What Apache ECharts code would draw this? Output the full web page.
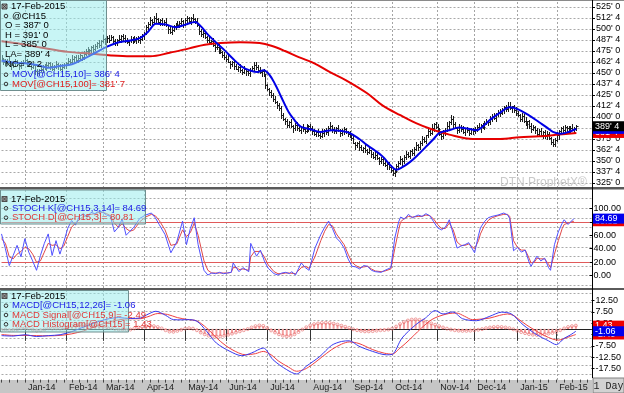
<!DOCTYPE html>
<html><head><meta charset="utf-8">
<script src="https://cdn.jsdelivr.net/npm/echarts@6/dist/echarts.min.js"></script>
<style>html,body{margin:0;padding:0;background:#fff}#c{width:624px;height:393px}</style>
</head><body><div id="c"></div>
<script>
// ---------- data ----------
const monthLabels = ['Jan-14','Feb-14','Mar-14','Apr-14','May-14','Jun-14','Jul-14','Aug-14','Sep-14','Oct-14','Nov-14','Dec-14','Jan-15','Feb-15'];
const monthStartIdx = [12,33,52,73,94,115,136,158,179,200,223,242,264,284];
const slotCount = 303;
const quote = {date:'17-Feb-2015', symbol:'@CH15', open:387, high:391, low:385, last:389.5, change:2.25};

const closes = [466,463,461,464,462,459,461,463,460,458,461,463,465,462,460,457,459,452,450,453,
455,458,456,459,461,458,455,457,460,458,455,457,459,461,464,462,466,468,465,467,
470,468,472,475,473,476,479,477,481,484,482,486,489,487,490,488,491,486,484,487,
489,492,490,488,485,487,489,486,488,490,487,489,492,496,502,506,510,508,513,511,
508,510,506,508,504,500,497,499,503,506,504,507,509,506,510,512,509,513,511,509,
504,498,494,496,491,488,485,486,482,479,480,476,474,471,468,466,463,460,462,458,
455,457,453,451,454,452,450,453,456,459,457,453,451,452,449,436,432,428,425,420,
417,414,410,402,398,395,391,394,390,387,391,388,385,389,386,384,388,390,387,384,
381,383,380,378,382,385,383,387,390,386,384,387,385,382,384,386,383,381,379,376,
371,368,370,366,363,365,362,360,362,358,355,357,353,350,352,348,345,347,343,340,
336,339,344,348,352,350,355,358,356,361,359,364,368,366,371,375,373,379,384,382,
388,392,389,386,381,378,382,385,390,394,398,392,388,385,389,386,383,387,385,382,
386,384,386,389,387,391,389,393,396,394,398,401,399,403,406,404,408,411,409,413,
410,412,408,405,402,398,401,396,392,395,390,386,389,385,381,384,380,383,378,381,
376,372,369,374,379,384,387,385,389,387,385,388,386,387.25,389.5];
const highs = [470,467,466,466,468,463,463,466,465,461,464,465,469,466,464,463,461,460,455,455,
459,459,460,462,463,462,461,459,464,461,460,460,461,462,467,466,470,469,470,470,
472,471,475,477,479,477,481,482,483,485,487,488,493,490,492,493,493,492,489,489,
493,493,494,493,490,488,492,491,492,491,492,492,494,497,505,508,514,511,515,518,
513,511,513,510,512,505,502,502,505,507,509,509,513,510,512,515,514,514,517,513,
513,505,500,499,498,492,491,488,490,483,482,483,478,475,474,470,470,464,464,465,
460,458,460,455,458,455,454,456,458,463,462,459,457,453,454,448,438,433,431,427,
424,418,416,413,404,399,398,396,398,391,393,394,390,390,392,388,392,391,392,390,
386,384,386,382,386,386,387,390,394,391,389,389,391,386,386,389,388,384,384,381,
380,372,372,373,368,366,368,364,366,363,360,360,359,354,355,354,352,348,349,346,
342,340,347,350,356,353,357,361,360,362,364,366,372,369,373,378,377,380,387,386,
392,393,394,392,388,382,385,387,394,395,402,401,394,389,392,391,390,388,389,388,
388,387,389,391,393,392,393,396,398,397,401,403,405,404,408,409,410,412,414,417,
417,413,414,411,407,403,404,403,400,396,397,393,391,390,388,386,388,384,385,384,
383,377,375,376,383,385,389,390,391,390,390,390,392,388.5,391];
const lows = [465,460,459,459,461,455,457,458,459,455,456,459,462,458,458,454,456,449,448,448,
452,451,454,453,458,455,453,453,456,454,453,452,456,456,459,460,461,462,463,462,
466,465,466,470,472,469,474,474,476,478,480,480,485,483,485,485,487,483,482,482,
486,485,488,485,484,482,485,484,485,484,485,484,488,489,494,500,505,504,506,508,
507,505,504,504,503,496,495,494,498,500,502,502,506,502,504,507,508,506,509,507,
503,494,492,491,490,485,483,483,481,475,477,473,473,468,466,464,462,456,458,455,
454,452,451,449,450,448,448,447,452,453,455,451,450,447,447,433,431,425,423,418,
416,410,408,399,397,392,389,389,389,383,385,385,384,382,384,382,383,384,385,381,
380,378,378,376,377,378,381,380,386,383,382,382,384,378,380,381,382,378,377,374,
370,364,366,363,362,360,360,358,359,354,353,352,352,347,348,346,344,341,341,337,
334,333,337,342,347,346,348,352,355,353,357,357,363,362,364,368,372,370,377,380,
381,384,387,383,380,375,376,380,384,386,392,389,387,382,383,384,382,379,383,379,
381,381,382,384,386,383,387,386,392,391,392,396,398,395,401,401,403,405,407,407,
409,406,406,402,401,395,396,394,391,388,388,383,385,382,379,379,379,376,376,375,
375,369,367,367,373,375,382,382,384,384,383,383,385,383,385];

const ma10 = [[0,464],[6,462],[12,461],[18,459],[24,456],[30,458],[36,460],[42,466],[48,473],[54,480],[60,485],[66,487],[71,490],[75,497],[79,506],[84,505],[89,502],[94,505],[99,508],[102,503],[105,495],[110,484],[114,476],[118,467],[123,457],[127,453],[131,451],[134,453],[137,448],[140,437],[143,423],[147,405],[150,396],[153,389],[158,386],[163,383],[169,385],[174,384],[178,382],[183,375],[187,368],[191,362],[195,355],[199,345],[202,340],[205,343],[209,349],[213,357],[217,366],[221,375],[224,382],[229,385],[234,388],[238,387],[243,385],[246,389],[250,397],[255,405],[260,411],[264,409],[269,403],[275,394],[279,388],[282,383],[286,381],[290,383],[294,386.5]];
const ma100 = [[0,486],[10,483],[20,479],[34,474],[46,472],[56,470],[66,469],[76,469],[86,473],[96,478],[104,482],[112,484],[122,485],[132,484],[138,481],[145,475],[152,468],[160,461],[168,451],[176,442],[187,427],[195,413],[204,402],[212,393],[220,386],[229,380],[241,375],[255,375],[265,377],[275,378],[285,380],[294,381.875]];

const stochK = [[0,62],[2,40],[4,15],[6,30],[8,45],[10,28],[12,55],[14,35],[16,22],[18,8],[20,30],[22,48],[24,62],[26,30],[28,52],[30,32],[32,50],[34,70],[36,82],[38,75],[40,88],[42,92],[44,87],[46,94],[48,92],[50,96],[52,94],[54,90],[56,88],[58,65],[60,72],[62,84],[64,60],[66,66],[68,72],[71,85],[74,90],[77,93],[79,86],[81,76],[84,61],[87,34],[90,50],[93,81],[95,46],[97,70],[99,86],[101,46],[104,8],[106,1],[108,4],[110,3],[112,5],[114,3],[116,4],[118,5],[119,19],[121,10],[122,6],[124,12],[125,10],[127,6],[128,48],[130,35],[131,29],[133,38],[135,22],[137,11],[140,3],[142,1],[144,4],[146,5],[148,3],[149,6],[151,1],[154,19],[156,12],[158,8],[161,41],[164,61],[166,72],[168,81],[170,70],[172,56],[174,50],[176,41],[178,25],[180,14],[182,13],[184,10],[186,15],[188,14],[190,8],[192,6],[195,5],[197,8],[200,12],[202,56],[204,80],[205,87],[207,84],[209,91],[211,86],[212,85],[214,90],[216,88],[218,92],[220,89],[222,80],[224,71],[226,68],[228,72],[230,83],[232,62],[234,41],[236,44],[238,46],[240,49],[241,47],[243,34],[245,60],[246,71],[248,80],[250,86],[252,88],[255,90],[258,93],[260,90],[261,85],[263,37],[265,42],[267,35],[269,38],[271,20],[272,14],[274,24],[275,29],[277,22],[279,26],[281,12],[282,8],[283,9],[284,46],[286,65],[288,78],[289,83],[291,76],[292,75],[294,84.69]];
const stochD = [[0,55],[2,48],[4,28],[6,25],[8,32],[10,36],[12,42],[14,40],[16,32],[18,20],[20,22],[22,35],[24,48],[26,45],[28,46],[30,40],[32,44],[34,58],[36,72],[38,78],[40,83],[42,88],[44,89],[46,91],[48,92],[50,94],[52,94],[54,92],[56,89],[58,78],[60,72],[62,77],[64,70],[66,66],[68,68],[71,80],[74,87],[77,91],[79,89],[81,82],[84,68],[87,45],[90,47],[93,68],[95,58],[97,64],[99,78],[101,60],[104,22],[106,8],[108,4],[110,4],[112,4],[114,4],[116,4],[118,5],[119,12],[121,12],[122,9],[124,10],[125,10],[127,8],[128,28],[130,36],[131,34],[133,36],[135,28],[137,16],[140,6],[142,3],[144,3],[146,4],[148,4],[149,5],[151,3],[154,12],[156,14],[158,11],[161,28],[164,52],[166,66],[168,76],[170,74],[172,62],[174,54],[176,46],[178,32],[180,20],[182,15],[184,12],[186,13],[188,14],[190,10],[192,7],[195,6],[197,7],[200,10],[202,40],[204,68],[205,80],[207,85],[209,88],[211,87],[212,86],[214,88],[216,88],[218,90],[220,89],[222,84],[224,76],[226,70],[228,70],[230,78],[232,68],[234,50],[236,45],[238,45],[240,47],[241,47],[243,40],[245,52],[246,62],[248,74],[250,82],[252,86],[255,89],[258,91],[260,91],[261,88],[263,52],[265,42],[267,38],[269,38],[271,26],[272,19],[274,21],[275,26],[277,25],[279,25],[281,17],[282,12],[283,10],[284,32],[286,52],[288,70],[289,76],[291,78],[292,77],[294,80.81]];
const stochBands = [80, 20];

const macdLine = [[0,-3.0],[6,-3.2],[12,-2.6],[18,-3.4],[24,-3.0],[30,-2.6],[36,-1.2],[42,0.8],[48,2.8],[54,4.3],[60,5.0],[66,4.6],[71,4.8],[75,6.5],[79,7.8],[84,6.0],[88,4.1],[92,4.0],[95,4.1],[100,3.4],[105,-1.1],[110,-6.3],[117,-10],[123,-11.9],[128,-10.7],[134,-8.5],[139,-13.7],[146,-18.1],[151,-20],[156,-16.6],[163,-12.2],[169,-7.3],[174,-5.6],[178,-5.3],[183,-7.7],[190,-10],[197,-11.5],[200,-11.3],[205,-4.1],[212,1.8],[217,4.8],[222,8.1],[226,6.6],[231,7.5],[236,4.5],[243,3.6],[250,5.6],[256,7.4],[261,6.6],[267,1.8],[274,-2.6],[280,-5.3],[284,-7.0],[288,-4.2],[291,-2.8],[294,-1.06]];
const macdSignal = [[0,-2.5],[6,-2.9],[12,-2.9],[18,-3.0],[24,-3.1],[30,-2.9],[36,-2.2],[42,-0.9],[48,1.0],[54,2.8],[60,4.0],[66,4.5],[71,4.5],[75,5.4],[80,6.8],[85,6.4],[90,5.0],[95,4.2],[100,3.5],[105,0.4],[112,-5.5],[118,-9.2],[125,-11.5],[130,-11.0],[134,-10.0],[138,-11.5],[142,-14.4],[147,-17.0],[151,-18.8],[155,-18.0],[159,-15.9],[164,-12.5],[169,-9.2],[174,-6.8],[178,-5.8],[183,-6.5],[190,-9.2],[196,-10.8],[200,-11.2],[204,-8.5],[207,-6.3],[211,-3.0],[215,0.4],[220,4.0],[224,5.6],[229,6.8],[233,7.0],[237,5.6],[241,4.1],[245,4.3],[250,4.8],[255,6.0],[259,6.6],[262,6.0],[265,4.1],[269,1.6],[274,-1.1],[278,-3.0],[282,-4.5],[285,-5.0],[289,-4.0],[294,-2.49]];
const macdHist = [[0,-0.5],[2,-0.3],[4,-0.6],[6,-0.4],[8,-0.2],[10,0.2],[12,0.4],[14,0.1],[16,-0.3],[18,-0.8],[20,-0.6],[22,-0.2],[24,0.3],[26,0.1],[28,0.2],[30,0.1],[32,0.4],[34,0.8],[36,1.2],[38,1.5],[40,1.8],[42,1.9],[44,1.8],[46,1.7],[48,1.5],[50,1.3],[52,1.0],[54,0.7],[56,0.4],[58,0.0],[60,-0.3],[62,-0.2],[64,-0.4],[66,-0.3],[68,0.2],[70,0.6],[72,0.9],[74,1.2],[76,1.3],[78,1.2],[80,0.8],[82,0.2],[84,-0.6],[86,-1.2],[88,-1.3],[90,-0.9],[92,-0.4],[94,0.1],[96,0.3],[98,0.1],[100,-0.6],[102,-1.6],[104,-2.4],[106,-3.0],[108,-3.3],[110,-3.4],[112,-3.3],[114,-3.0],[116,-2.6],[118,-2.1],[120,-1.6],[122,-1.1],[124,-0.6],[126,-0.1],[128,0.6],[130,1.2],[132,1.5],[134,1.3],[136,0.4],[138,-0.7],[140,-1.6],[142,-2.4],[144,-3.0],[146,-3.3],[148,-3.1],[150,-2.4],[152,-1.4],[154,-0.3],[156,0.7],[158,1.5],[160,2.1],[162,2.4],[164,2.6],[166,2.7],[168,2.6],[170,2.3],[172,1.9],[174,1.4],[176,0.9],[178,0.4],[180,-0.2],[182,-0.6],[184,-0.9],[186,-1.1],[188,-1.1],[190,-1.0],[192,-0.8],[194,-0.6],[196,-0.5],[198,-0.3],[200,0.1],[202,1.0],[204,2.1],[206,3.0],[208,3.7],[210,4.1],[212,4.2],[214,4.0],[216,3.6],[218,3.0],[220,2.4],[222,1.8],[224,1.2],[226,0.6],[228,0.1],[230,-0.3],[232,-0.6],[234,-0.8],[236,-0.9],[238,-0.9],[240,-0.8],[242,-0.6],[244,-0.4],[246,-0.1],[248,0.3],[250,0.6],[252,0.8],[254,0.9],[256,0.8],[258,0.6],[260,0.3],[262,-0.2],[264,-0.8],[266,-1.4],[268,-1.9],[270,-2.3],[272,-2.6],[274,-2.7],[276,-2.6],[278,-2.4],[280,-2.1],[282,-1.8],[284,-1.4],[286,-0.6],[288,0.2],[290,0.8],[292,1.2],[294,1.43]];

// ---------- helpers ----------
const FONT = '"Liberation Sans Narrow","Liberation Sans",Arial,sans-serif';
const AXFONT = '"Liberation Sans",Arial,sans-serif';
const fmt8 = v => { const w = Math.floor(v + 1e-9); return w + "' " + Math.round((v - w) * 8); };
const lastOf = a => a[a.length - 1][1];
const cats = Array.from({length: slotCount}, (_, i) => String(i));
const monthSet = new Set(monthStartIdx);
const monthName = {}; monthStartIdx.forEach((m, k) => monthName[m] = monthLabels[k]);
const bars = closes.map((c, i) => [i, highs[i], lows[i], c]);

const GL = 1.5, GW = 590.5;
const gridDot = {color:'#a9a9a9', type:[2,2], width:1};

const chart = echarts.init(document.getElementById('c'), null, {renderer:'canvas'});

function renderHLC(params, api) {
  const i = api.value(0);
  const pH = api.coord([i, api.value(1)]);
  const pL = api.coord([i, api.value(2)]);
  const pC = api.coord([i, api.value(3)]);
  const x = Math.round(pH[0]) + 0.5;
  const yc = Math.round(pC[1]) + 0.5;
  const st = {stroke:'#1c1c1c', lineWidth:1};
  return {type:'group', children:[
    {type:'line', shape:{x1:x, y1:Math.round(pH[1]), x2:x, y2:Math.round(pL[1]) + 1}, style:st},
    {type:'line', shape:{x1:x, y1:yc, x2:x + 2, y2:yc}, style:st}
  ]};
}

const hiddenX = gi => ({type:'category', gridIndex:gi, data:cats, boundaryGap:false, show:false});
const rightLabel = {color:'#000', fontSize:9, fontFamily:AXFONT, margin:4};
const rightTick = {show:true, length:3, lineStyle:{color:'#000'}};

chart.setOption({
  animation:false,
  backgroundColor:'#fff',
  grid:[
    {left:GL, width:GW, top:2, height:378},
    {left:GL, width:GW, top:7, height:176},
    {left:GL, width:GW, top:208.3, height:67.4},
    {left:GL, width:GW, top:198.7, height:86.6},
    {left:GL, width:GW, top:289.4, height:90.2},
    {left:GL, width:GW, top:292.8, height:81.1}
  ],
  xAxis:[
    {type:'category', gridIndex:0, data:cats, boundaryGap:false, axisLine:{show:false}, axisTick:{show:false}, axisLabel:{show:false},
     splitLine:{show:true, interval:(i) => monthSet.has(i), lineStyle:{color:'#a4a4a4', type:[2,2], width:1}}},
    hiddenX(1), hiddenX(2), hiddenX(3),
    {type:'category', gridIndex:4, data:cats, boundaryGap:false, position:'bottom',
     axisLine:{show:true, lineStyle:{color:'#222', width:1}},
     axisTick:{show:true, interval:(i) => monthSet.has(i), length:12, lineStyle:{color:'#333'}},
     axisLabel:{show:true, interval:(i) => monthSet.has(i), formatter:(v) => monthName[+v] || '', align:'left', padding:[0,0,0,3], margin:3, fontSize:9, color:'#222', fontFamily:AXFONT},
     splitLine:{show:false}},
    {type:'category', gridIndex:4, data:cats, boundaryGap:false, position:'bottom',
     axisLine:{show:false}, axisLabel:{show:false}, splitLine:{show:false},
     axisTick:{show:true, interval:(i) => i % 4 === 0, length:3, lineStyle:{color:'#444'}}},
    hiddenX(5)
  ],
  yAxis:[
    {type:'value', gridIndex:0, min:0, max:1, show:false},
    {type:'value', gridIndex:1, position:'right', min:325, max:525, interval:12.5,
     axisLine:{show:false}, axisTick:rightTick, axisLabel:Object.assign({formatter:v => fmt8(v)}, rightLabel),
     splitLine:{show:true, lineStyle:gridDot}},
    {type:'value', gridIndex:2, position:'right', min:0, max:100, interval:20,
     axisLine:{show:false}, axisTick:rightTick, axisLabel:Object.assign({formatter:v => v.toFixed(2)}, rightLabel),
     splitLine:{show:false}},
    {type:'value', gridIndex:3, min:-100/7, max:800/7, interval:100/7,
     axisLine:{show:false}, axisTick:{show:false}, axisLabel:{show:false},
     splitLine:{show:true, lineStyle:gridDot}},
    {type:'value', gridIndex:4, position:'right', min:-22.5, max:17.5, interval:5,
     axisLine:{show:false}, axisTick:rightTick,
     axisLabel:Object.assign({formatter:v => v.toFixed(2), showMinLabel:false, showMaxLabel:false}, rightLabel),
     splitLine:{show:false}},
    {type:'value', gridIndex:5, min:-20, max:16, interval:4,
     axisLine:{show:false}, axisTick:{show:false}, axisLabel:{show:false},
     splitLine:{show:true, lineStyle:gridDot}}
  ],
  series:[
    {type:'custom', name:'@CH15', xAxisIndex:1, yAxisIndex:1, data:bars, renderItem:renderHLC, encode:{x:0, y:[1,2,3]}, z:3},
    {type:'line', name:'MOV10', xAxisIndex:1, yAxisIndex:1, data:ma10, showSymbol:false, smooth:0.35, lineStyle:{color:'#0000e6', width:2}, z:5},
    {type:'line', name:'MOV100', xAxisIndex:1, yAxisIndex:1, data:ma100, showSymbol:false, smooth:0.35, lineStyle:{color:'#e60000', width:2}, z:4},
    {type:'line', name:'STOCH D', xAxisIndex:2, yAxisIndex:2, data:stochD, showSymbol:false, lineStyle:{color:'#e04848', width:1}, z:4,
     markLine:{silent:true, symbol:['none','none'], label:{show:false}, lineStyle:{color:'#e05a5a', type:'solid', width:1},
       data:stochBands.map(v => ({yAxis:v}))}},
    {type:'line', name:'STOCH K', xAxisIndex:2, yAxisIndex:2, data:stochK, showSymbol:false, lineStyle:{color:'#5050ff', width:1}, z:5},
    {type:'bar', name:'Hist', xAxisIndex:4, yAxisIndex:4, data:macdHist, barWidth:2, itemStyle:{color:'#f4a0a0'}, z:2},
    {type:'scatter', name:'HistDot', xAxisIndex:4, yAxisIndex:4, data:macdHist, symbol:'circle', symbolSize:3,
     itemStyle:{color:'rgba(0,0,0,0)', borderColor:'#e86a6a', borderWidth:0.8}, z:3},
    {type:'line', name:'Signal', xAxisIndex:4, yAxisIndex:4, data:macdSignal, showSymbol:false, smooth:0.3, lineStyle:{color:'#f04040', width:1}, z:4},
    {type:'line', name:'MACD', xAxisIndex:4, yAxisIndex:4, data:macdLine, showSymbol:false, smooth:0.3, lineStyle:{color:'#3838f0', width:1}, z:5}
  ]
});

// ---------- overlays ----------
const G = [];
const txt = (x, y, s, color, size, z, family, align) => G.push({type:'text', x:x, y:y, z:z || 120,
  style:{text:s, fill:color || '#000', fontSize:size || 9.5, fontFamily:family || FONT, textVerticalAlign:'middle', textAlign:align || 'left'}});
const rect = (x, y, w, h, fill, stroke, z) => G.push({type:'rect', z:z, shape:{x:x, y:y, width:w, height:h},
  style:{fill:fill, stroke:stroke || null, lineWidth:stroke ? 1 : 0}});
const bullet = (cx, cy) => G.push({type:'circle', z:121, shape:{cx:cx, cy:cy, r:1.8}, style:{fill:'none', stroke:'#333', lineWidth:1}});
const icon = (x, y) => { rect(x, y, 5, 5, '#9a9a9a', '#505050', 121);
  G.push({type:'line', z:122, shape:{x1:x, y1:y, x2:x + 5, y2:y + 5}, style:{stroke:'#333', lineWidth:0.7}});
  G.push({type:'line', z:122, shape:{x1:x + 5, y1:y, x2:x, y2:y + 5}, style:{stroke:'#333', lineWidth:0.7}}); };

// bottom band, separators, frame
rect(0, 380, 592, 13, '#c6c6c6', null, -1);
rect(0, 0, 624, 1, '#8a8a8a', null, 50);
rect(0, 187, 624, 2.5, '#5a5a5a', null, 50);
rect(0, 288, 624, 2, '#5a5a5a', null, 50);
G.push({type:'line', z:60, shape:{x1:592.5, y1:0, x2:592.5, y2:378}, style:{stroke:'#000', lineWidth:1}});
// watermark
txt(500, 183, 'DTN ProphetX\u00ae', '#c9c9c9', 12, 1, AXFONT);
// 1 Day box
rect(593, 378, 31, 15, '#d2d2d2', '#808080', 60);
txt(608.5, 386, '1 Day', '#222', 10, 61, '"Liberation Mono","DejaVu Sans Mono",monospace', 'center');

// top legend
const BOX = 'rgba(150,236,236,0.52)', BOXS = '#6f8f8f';
rect(0.5, 0.5, 106, 90, BOX, BOXS, 110);
icon(2, 4);
txt(11, 6.7, quote.date);
bullet(6, 16); txt(12, 16, quote.symbol);
txt(5, 25.7, 'O = ' + fmt8(quote.open));
txt(5, 35, 'H = ' + fmt8(quote.high));
txt(5, 44.7, 'L = ' + fmt8(quote.low));
txt(5, 54.7, 'LA= ' + fmt8(quote.last));
txt(5, 64.7, 'NC= ' + fmt8(quote.change));
bullet(6, 74.7); txt(12, 74.7, 'MOV[@CH15,10]= ' + fmt8(lastOf(ma10)), '#1a1ae6');
bullet(6, 84); txt(12, 84, 'MOV[@CH15,100]= ' + fmt8(lastOf(ma100)), '#e02020');
// stoch legend
rect(0.5, 190, 145, 34, BOX, BOXS, 110);
icon(2, 196.5);
txt(11, 199.3, quote.date);
bullet(6, 208.3); txt(12, 208.3, 'STOCH K[@CH15,3,14]= ' + lastOf(stochK).toFixed(2), '#1a1ae6');
bullet(6, 217.7); txt(12, 217.7, 'STOCH D[@CH15,3]= ' + lastOf(stochD).toFixed(2), '#e03838');
// macd legend
rect(0.5, 290.5, 128, 41.5, BOX, BOXS, 110);
icon(2, 293.5);
txt(11, 296.3, quote.date);
bullet(6, 305.7); txt(12, 305.7, 'MACD[@CH15,12,26]= ' + lastOf(macdLine).toFixed(2), '#1a1ae6');
bullet(6, 315); txt(12, 315, 'MACD Signal[@CH15,9]= ' + lastOf(macdSignal).toFixed(2), '#e03838');
bullet(6, 324.3); txt(12, 324.3, 'MACD Histogram[@CH15]= ' + lastOf(macdHist).toFixed(2), '#e03838');

// right-side last-value boxes
const vbox = (axis, v, color, label, z) => {
  const y = chart.convertToPixel({yAxisIndex:axis}, v);
  rect(593, y - 5, 31, 10, color, null, z);
  txt(595, y, label, '#fff', 9, z + 1, AXFONT);
};
vbox(1, lastOf(ma100), '#ee0000', fmt8(lastOf(ma100)), 130);
vbox(1, lastOf(ma10), '#0000ee', fmt8(lastOf(ma10)), 132);
vbox(1, closes[closes.length - 1], '#000', fmt8(closes[closes.length - 1]), 134);
vbox(2, lastOf(stochD), '#ee0000', lastOf(stochD).toFixed(2), 130);
vbox(2, lastOf(stochK), '#0000ee', lastOf(stochK).toFixed(2), 132);
vbox(4, lastOf(macdSignal), '#ee0000', lastOf(macdSignal).toFixed(2), 130);
vbox(4, lastOf(macdHist), '#ee0000', lastOf(macdHist).toFixed(2), 132);
vbox(4, lastOf(macdLine), '#0000ee', lastOf(macdLine).toFixed(2), 134);

chart.setOption({graphic:{elements:G}});
</script>
</body></html>
